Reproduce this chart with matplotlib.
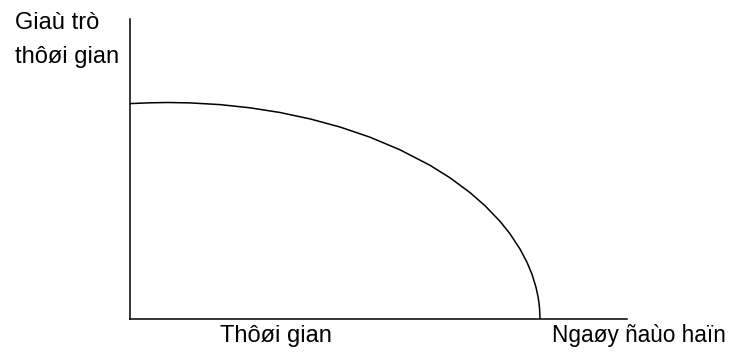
import matplotlib
matplotlib.use("Agg")
import matplotlib.pyplot as plt

# gia tri thoi gian cua quyen chon theo thoi gian con lai (doc tu hinh)
thoi_gian = [0, 20, 38, 60, 90, 120, 150, 180, 210, 240, 270, 300, 320, 340,
             355, 370, 380, 390, 397, 402, 406, 408, 409, 409.6, 410]
gia_tri = [215.4, 216.2, 216.5, 216.1, 214.4, 211.2, 206.5, 200.1, 192.0, 181.8,
           169.2, 153.7, 141.2, 126.4, 113.3, 97.7, 85.2, 70.0, 56.7, 44.7,
           31.7, 22.5, 15.9, 10.0, 0.0]

nhan_truc_y = ["Giaù trò", "thôøi gian"]
nhan_truc_x = "Thôøi gian"
nhan_dao_han = "Ngaøy ñaùo haïn"

plt.rcParams['font.family'] = ['Liberation Sans', 'DejaVu Sans']

W, H = 732, 355
fig = plt.figure(figsize=(W / 100, H / 100), dpi=100)
ax = fig.add_axes([130 / W, (H - 319) / H, 497 / W, 300 / H])

ax.plot(thoi_gian, gia_tri, color='black', linewidth=1.1)
ax.set_xlim(0, 497)
ax.set_ylim(0, 300)

for s in ['top', 'right']:
    ax.spines[s].set_visible(False)
for s in ['left', 'bottom']:
    ax.spines[s].set_linewidth(1.1)
ax.set_xticks([])
ax.set_yticks([])

fig.text(15 / W, 1 - 29 / H, nhan_truc_y[0], fontsize=17, va='baseline', ha='left')
fig.text(15 / W, 1 - 63 / H, nhan_truc_y[1], fontsize=17, va='baseline', ha='left')
fig.text(220 / W, 1 - 342 / H, nhan_truc_x, fontsize=17, va='baseline', ha='left')
# nhan ngay dao han: canh phai de khong bi cat o mep
fig.text(726 / W, 1 - 342 / H, nhan_dao_han, fontsize=16.3, va='baseline', ha='right')

fig.savefig("out.png", dpi=100)
